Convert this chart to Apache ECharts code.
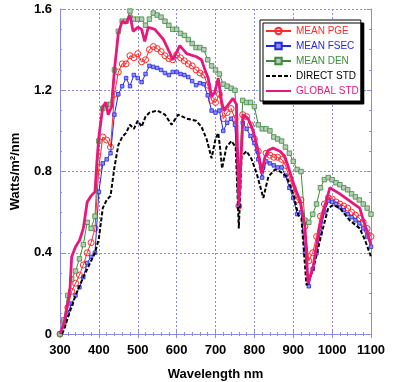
<!DOCTYPE html>
<html>
<head>
<meta charset="utf-8">
<script src="https://cdn.jsdelivr.net/npm/echarts@6/dist/echarts.min.js"></script>
<style>
html,body{margin:0;padding:0;background:#fff;}
#chart{width:400px;height:382px;}
</style>
</head>
<body>
<div id="chart"></div>
<script>
// ---- data ----
const wavelengths = [300,310,320,330,340,350,360,370,380,390,400,410,420,430,440,450,460,470,480,490,500,510,520,530,540,550,560,570,580,590,600,610,620,630,640,650,660,670,680,690,700,710,720,730,740,750,760,770,780,790,800,810,820,830,840,850,860,870,880,890,900,910,920,930,940,950,960,970,980,990,1000,1010,1020,1030,1040,1050,1060,1070,1080,1090,1100];
const meanPGE = [0.0,0.06,0.13,0.21,0.25,0.29,0.34,0.40,0.45,0.52,
  0.82,0.97,0.955,0.92,1.18,1.29,1.33,1.33,1.37,1.36,
  1.38,1.34,1.35,1.40,1.415,1.405,1.39,1.37,1.355,1.35,
  1.375,1.36,1.345,1.33,1.32,1.30,1.285,1.275,1.225,1.15,
  1.14,1.18,1.06,1.09,1.11,1.06,0.63,1.08,1.07,1.03,
  0.96,0.90,0.82,0.89,0.88,0.87,0.87,0.86,0.83,0.77,
  0.72,0.66,0.66,0.53,0.36,0.40,0.48,0.58,0.64,0.67,
  0.665,0.65,0.64,0.63,0.62,0.60,0.585,0.57,0.55,0.52,0.48];
const meanFSEC = [0.0,0.04,0.10,0.15,0.19,0.23,0.28,0.35,0.38,0.40,
  0.70,0.84,0.86,0.89,1.08,1.18,1.22,1.26,1.22,1.275,
  1.26,1.24,1.28,1.32,1.315,1.31,1.30,1.285,1.275,1.29,
  1.29,1.28,1.275,1.265,1.245,1.225,1.235,1.23,1.175,1.10,
  1.09,1.10,1.00,1.04,1.06,1.03,0.63,1.04,1.01,0.975,
  0.94,0.86,0.77,0.85,0.84,0.83,0.82,0.82,0.78,0.72,
  0.67,0.59,0.60,0.40,0.235,0.32,0.40,0.50,0.60,0.655,
  0.65,0.64,0.625,0.61,0.59,0.575,0.56,0.545,0.52,0.48,0.43];
const meanDEN = [0.0,0.07,0.19,0.27,0.31,0.37,0.44,0.55,0.52,0.58,
  0.95,1.11,1.13,1.13,1.30,1.49,1.54,1.54,1.59,1.55,
  1.55,1.55,1.52,1.55,1.58,1.57,1.56,1.54,1.52,1.50,
  1.50,1.48,1.47,1.45,1.43,1.41,1.41,1.40,1.35,1.32,
  1.30,1.28,1.23,1.22,1.21,1.20,0.73,1.15,1.14,1.14,
  1.12,1.03,1.01,1.01,1.00,0.97,0.96,0.95,0.92,0.89,
  0.85,0.81,0.80,0.56,0.55,0.59,0.64,0.72,0.76,0.77,
  0.76,0.745,0.735,0.72,0.71,0.69,0.675,0.66,0.64,0.62,0.59];
const directX = [305,310,320,340,360,380,390,400,410,420,430,440,450,460,470,480,490,500,510,520,530,550,570,587,604,626,650,664,677,690,700,707,711,717,728,741,752,760,767,780,793,806,823,836,853,866,883,900,913,921,934,938,951,973,990,1003,1020,1045,1071,1085,1100];
const directSTD = [0.0,0.02,0.08,0.19,0.28,0.36,0.40,0.47,0.62,0.66,0.68,0.82,0.93,0.97,0.99,1.03,1.01,1.05,1.02,1.07,1.09,1.10,1.08,1.03,1.08,1.06,1.05,1.02,0.96,0.865,0.96,0.99,0.93,0.815,0.92,0.95,0.92,0.52,0.875,0.90,0.86,0.79,0.67,0.775,0.81,0.80,0.775,0.69,0.585,0.57,0.24,0.235,0.315,0.495,0.62,0.635,0.62,0.56,0.52,0.46,0.38];
const globalX = [300,310,320,326,330,340,350,360,370,380,390,395,400,410,418,424,433,440,450,460,470,480,488,500,510,518,527,544,566,591,608,626,651,664,673,681,690,698,707,716,722,729,745,754,760,771,784,797,810,818,827,836,848,866,878,891,904,917,930,938,951,968,994,1020,1071,1100];
const globalSTD = [0,0.05,0.15,0.23,0.38,0.43,0.46,0.52,0.65,0.68,0.70,0.85,0.97,1.12,1.14,1.08,1.12,1.30,1.48,1.54,1.53,1.57,1.49,1.51,1.50,1.44,1.51,1.50,1.45,1.35,1.42,1.38,1.365,1.35,1.30,1.26,1.17,1.19,1.26,1.14,1.10,1.12,1.16,1.13,0.63,1.08,1.06,1.00,0.90,0.79,0.87,0.905,0.915,0.90,0.875,0.80,0.72,0.66,0.53,0.25,0.33,0.53,0.72,0.69,0.62,0.44];
const seriesNames = ['MEAN PGE','MEAN FSEC','MEAN DEN','DIRECT STD','GLOBAL STD'];
const xTicks = {min:300, max:1100, step:100};
const yTicks = {min:0, max:1.6, step:0.4};

// ---- styles ----
const FONT = 'Arial, "Liberation Sans", sans-serif';
const AX = '#8a8ae0';
const C = {pge:'#ff2a2a', fsec:'#2626e6', den:'#3c8c3c', dir:'#000000', glob:'#e8177c'};
const pair = (xs, ys) => xs.map((x,i)=>[x, ys[i]]);

const baseX = {
  type:'value', min:xTicks.min, max:xTicks.max, interval:xTicks.step,
  axisLine:{show:true, lineStyle:{color:AX, width:1}},
  axisTick:{show:true, inside:true, length:4, lineStyle:{color:AX}},
  minorTick:{show:true, splitNumber:5, length:2, lineStyle:{color:AX}},
  splitLine:{show:false}
};
const baseY = {
  type:'value', min:yTicks.min, max:yTicks.max, interval:yTicks.step,
  axisLine:{show:true, lineStyle:{color:AX, width:1}},
  axisTick:{show:true, inside:true, length:4, lineStyle:{color:AX}},
  minorTick:{show:true, splitNumber:4, length:2, lineStyle:{color:AX}},
  splitLine:{show:false}
};

const chart = echarts.init(document.getElementById('chart'), null, {renderer:'canvas'});
chart.setOption({
  animation:false,
  backgroundColor:'#ffffff',
  grid:{left:60, right:29, top:9, bottom:48, containLabel:false, outerBoundsMode:'none'},
  xAxis:[
    Object.assign({}, baseX, {
      position:'bottom',
      name:'Wavelength nm', nameLocation:'middle', nameGap:34,
      nameTextStyle:{fontFamily:FONT, fontWeight:'bold', fontSize:13, color:'#000'},
      axisLabel:{fontFamily:FONT, fontWeight:'bold', fontSize:13, color:'#000', margin:10,
                 formatter:(v)=>String(v)},
      splitLine:{show:true, lineStyle:{color:AX, type:[2,2], width:1}}
    }),
    Object.assign({}, baseX, {position:'top', axisLabel:{show:false}})
  ],
  yAxis:[
    Object.assign({}, baseY, {
      position:'left',
      name:'Watts/m²/nm', nameLocation:'middle', nameGap:38, nameRotate:90,
      nameTextStyle:{fontFamily:FONT, fontWeight:'bold', fontSize:13, color:'#000'},
      axisLabel:{fontFamily:FONT, fontWeight:'bold', fontSize:13, color:'#000', margin:8},
      splitLine:{show:true, lineStyle:{color:AX, type:[2,2], width:1}}
    }),
    Object.assign({}, baseY, {position:'right', axisLabel:{show:false}})
  ],
  legend:{
    orient:'vertical', left:260, top:20,
    backgroundColor:'#fff', borderColor:'#000', borderWidth:1,
    shadowColor:'#000', shadowOffsetX:3, shadowOffsetY:3, shadowBlur:0.01,
    padding:[6,2,5,5], itemWidth:25, itemHeight:8, itemGap:5,
    textStyle:{fontFamily:FONT, fontSize:10},
    data:[
      {name:seriesNames[0], textStyle:{color:C.pge}},
      {name:seriesNames[1], textStyle:{color:C.fsec}},
      {name:seriesNames[2], textStyle:{color:C.den}},
      {name:seriesNames[3], textStyle:{color:'#000'}, itemStyle:{opacity:0}},
      {name:seriesNames[4], textStyle:{color:C.glob}, itemStyle:{opacity:0}}
    ]
  },
  series:[
    {name:seriesNames[0], type:'line', data:pair(wavelengths, meanPGE),
     symbol:'circle', symbolSize:6, showAllSymbol:true,
     itemStyle:{color:'rgba(255,255,255,0)', borderColor:C.pge, borderWidth:1},
     lineStyle:{color:C.pge, width:1}, z:2},
    {name:seriesNames[1], type:'line', data:pair(wavelengths, meanFSEC),
     symbol:'rect', symbolSize:3.5, showAllSymbol:true,
     itemStyle:{color:'#8c8cff', borderColor:C.fsec, borderWidth:0.8},
     lineStyle:{color:C.fsec, width:1}, z:3},
    {name:seriesNames[2], type:'line', data:pair(wavelengths, meanDEN),
     symbol:'rect', symbolSize:4.5, showAllSymbol:true,
     itemStyle:{color:'#b5ccb5', borderColor:C.den, borderWidth:0.8},
     lineStyle:{color:C.den, width:1}, z:4},
    {name:seriesNames[3], type:'line', data:pair(directX, directSTD),
     symbol:'none', lineStyle:{color:C.dir, width:2, type:[4,2]}, itemStyle:{color:C.dir}, z:5},
    {name:seriesNames[4], type:'line', data:pair(globalX, globalSTD),
     symbol:'none', lineStyle:{color:C.glob, width:2.8}, itemStyle:{color:C.glob}, z:6}
  ]
});
</script>
</body>
</html>
